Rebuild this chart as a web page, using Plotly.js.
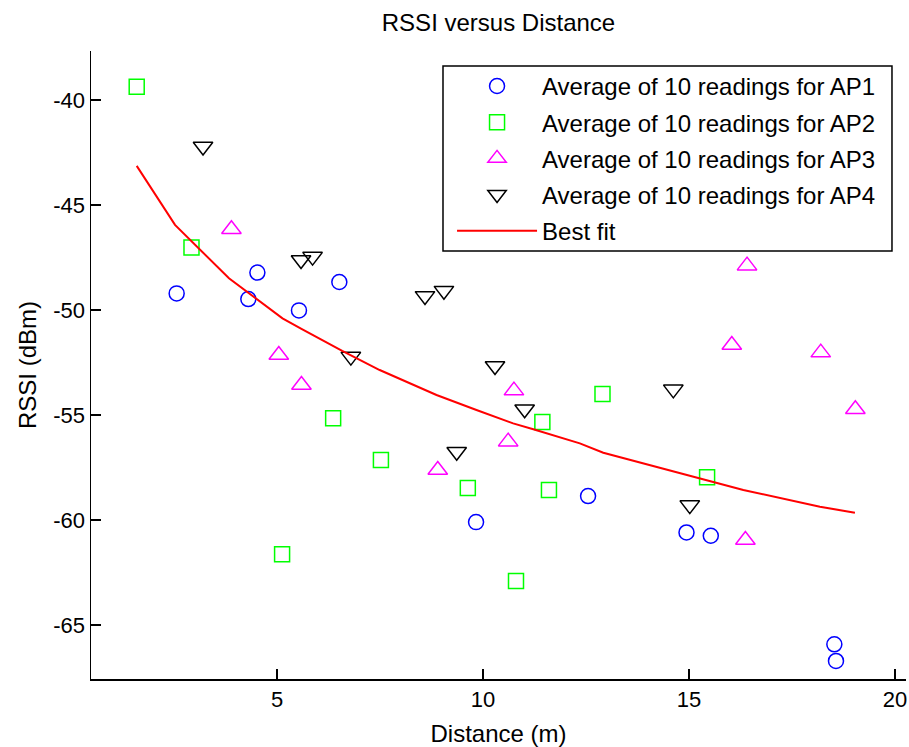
<!DOCTYPE html>
<html>
<head>
<meta charset="utf-8">
<script src="https://cdn.plot.ly/plotly-3.0.1.min.js"></script>
<style>html,body{margin:0;padding:0;background:#fff;}#chart{width:909px;height:747px;}</style>
</head>
<body>
<div id="chart"></div>
<script>
// AP1 (blue circles)
const ap1X = [2.56, 4.30, 4.52, 5.53, 6.51, 9.83, 12.55, 14.94, 15.53, 18.53, 18.57];
const ap1Y = [-49.21, -49.48, -48.22, -50.02, -48.67, -60.10, -58.86, -60.59, -60.75, -65.92, -66.71];
// AP2 (green squares)
const ap2X = [1.59, 2.92, 5.12, 6.36, 7.52, 9.63, 10.80, 11.44, 11.60, 12.90, 15.44];
const ap2Y = [-39.37, -47.03, -61.63, -55.16, -57.14, -58.48, -62.90, -55.33, -58.57, -54.00, -57.97];
// AP3 (magenta up-triangles)
const ap3X = [3.89, 5.04, 5.59, 8.90, 10.61, 10.75, 16.04, 16.41, 16.37, 18.20, 19.04];
const ap3Y = [-46.16, -52.14, -53.57, -57.62, -56.27, -53.84, -51.67, -47.89, -60.95, -52.03, -54.73];
// AP4 (black down-triangles)
const ap4X = [3.20, 5.58, 5.86, 6.79, 8.59, 9.05, 9.36, 10.29, 11.01, 14.62, 15.02];
const ap4Y = [-42.22, -47.62, -47.46, -52.22, -49.33, -49.08, -56.75, -52.67, -54.73, -53.78, -59.29];
// Best fit curve
const fitX = [1.59, 2.52, 3.83, 5.13, 5.59, 6.58, 7.49, 8.87, 9.84, 10.73, 11.22, 12.35, 12.92, 14.94, 15.51, 16.32, 18.18, 19.03];
const fitY = [-43.14, -45.95, -48.49, -50.40, -50.90, -51.95, -52.86, -54.05, -54.76, -55.40, -55.68, -56.35, -56.80, -57.86, -58.14, -58.57, -59.37, -59.65];

const names = ['Average of 10 readings for AP1', 'Average of 10 readings for AP2',
               'Average of 10 readings for AP3', 'Average of 10 readings for AP4', 'Best fit'];
const xTicks = [5, 10, 15, 20];
const yTicks = [-40, -45, -50, -55, -60, -65];

const FONT = 'Liberation Sans, Arial, sans-serif';
const mk = (sym, col, size) => ({symbol: sym, size: size, color: col, line: {color: col, width: 1.5}});

const traces = [
  {x: ap1X, y: ap1Y, mode: 'markers', type: 'scatter', name: names[0], legendgroup: 'g1', marker: mk('circle-open', '#0000ff', 15)},
  {x: ap2X, y: ap2Y, mode: 'markers', type: 'scatter', name: names[1], legendgroup: 'g2', marker: mk('square-open', '#00ff00', 15)},
  {x: ap3X, y: ap3Y, mode: 'markers', type: 'scatter', name: names[2], legendgroup: 'g3', marker: mk('triangle-up-open', '#ff00ff', 17)},
  {x: ap4X, y: ap4Y, mode: 'markers', type: 'scatter', name: names[3], legendgroup: 'g4', marker: mk('triangle-down-open', '#000000', 17)},
  {x: fitX, y: fitY, mode: 'lines', type: 'scatter', name: names[4], legendgroup: 'g5', line: {color: '#ff0000', width: 2}}
];

const layout = {
  width: 909, height: 747,
  margin: {l: 91, r: 3, t: 51, b: 68},
  paper_bgcolor: '#ffffff', plot_bgcolor: '#ffffff',
  font: {family: FONT, size: 22, color: '#000'},
  title: {text: 'RSSI versus Distance', font: {family: FONT, size: 24, color: '#000'},
          x: 0.5, xref: 'paper', xanchor: 'center', y: 1 - 23/747, yref: 'container', yanchor: 'middle'},
  xaxis: {
    range: [0.48, 20.27], tickvals: xTicks, ticktext: xTicks.map(String),
    ticks: 'inside', ticklen: 10, tickwidth: 1.5, tickcolor: '#000',
    showline: true, linecolor: '#000', linewidth: 1.5, showgrid: false, zeroline: false,
    tickfont: {family: FONT, size: 22, color: '#000'},
    title: {text: 'Distance (m)', font: {family: FONT, size: 24, color: '#000'}, standoff: 14}
  },
  yaxis: {
    range: [-67.57, -37.67], tickvals: yTicks, ticktext: yTicks.map(String),
    ticks: 'inside', ticklen: 10, tickwidth: 1.5, tickcolor: '#000',
    showline: true, linecolor: '#000', linewidth: 1.5, showgrid: false, zeroline: false,
    tickfont: {family: FONT, size: 22, color: '#000'},
    title: {text: 'RSSI (dBm)', font: {family: FONT, size: 24, color: '#000'}, standoff: 10}
  },
  shapes: [{
    type: 'rect', xref: 'paper', yref: 'paper', layer: 'above',
    x0: 0.4319, x1: 0.9828, y0: 0.6815, y1: 0.9761,
    fillcolor: '#ffffff', line: {color: '#000', width: 1.5}
  }],
  showlegend: true,
  legend: {
    x: 0.443, y: 0.9795, xanchor: 'left', yanchor: 'top',
    bgcolor: 'rgba(0,0,0,0)', borderwidth: 0,
    font: {family: FONT, size: 24, color: '#000'}, itemwidth: 80,
    tracegroupgap: 2, traceorder: 'grouped'
  }
};

Plotly.newPlot('chart', traces, layout, {displayModeBar: false, staticPlot: true});
</script>
</body>
</html>
